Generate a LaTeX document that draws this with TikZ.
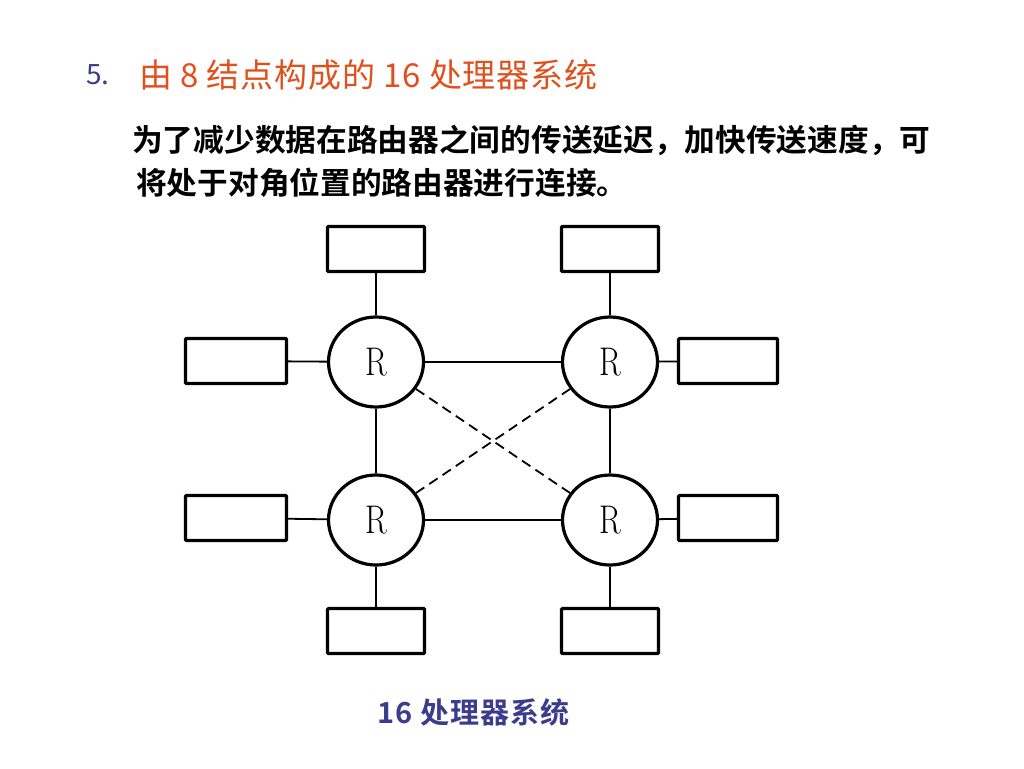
\documentclass[tikz,border=0pt]{standalone}
\usepackage{fontspec}
\newfontfamily\cjk{Noto Sans CJK SC}
\newfontfamily\cjkb{Noto Sans CJK SC Bold}
\newfontfamily\cjksp[LetterSpace=2.5]{Noto Sans CJK SC}
\newfontfamily\cjkbsp[LetterSpace=4]{Noto Sans CJK SC Bold}
\usetikzlibrary{shapes.geometric}
\definecolor{titleblue}{HTML}{3C3C8C}
\definecolor{titleorange}{HTML}{E0501C}
\tikzset{
  router/.style={draw, ellipse, line width=3.2pt, minimum width=95pt, minimum height=90pt, inner sep=0pt},
  pbox/.style={draw, line width=3.2pt, minimum width=97pt, minimum height=45pt, inner sep=0pt, rounded corners=1pt},
  link/.style={line width=1.8pt},
  diag/.style={line width=1.8pt, dash pattern=on 10pt off 6pt},
}
\newcommand{\rlabel}{\fontsize{40}{40}\selectfont\scalebox{0.8}[1]{R}}
\begin{document}
\begin{tikzpicture}[x=1pt,y=-1pt]
\useasboundingbox (0,0) rectangle (1024,768);
% title
\node[anchor=west, inner sep=0pt, text=titleblue, font=\cjk\fontsize{28}{28}\selectfont] (num) at (86,75) {5.};
\node[anchor=west, inner sep=0pt, text=titleorange, font=\cjksp\fontsize{33}{33}\selectfont] (title) at (139,75) {由 8 结点构成的 16 处理器系统};
% body
\node[anchor=west, inner sep=0pt, font=\cjkb\fontsize{30.7}{30.7}\selectfont] (l1) at (132,140) {为了减少数据在路由器之间的传送延迟，加快传送速度，可};
\node[anchor=west, inner sep=0pt, font=\cjkb\fontsize{30.7}{30.7}\selectfont] (l2) at (136,183) {将处于对角位置的路由器进行连接。};
% routers
\node[router] (r1) at (376,362) {\rlabel};
\node[router] (r2) at (610,362) {\rlabel};
\node[router] (r3) at (376,520) {\rlabel};
\node[router] (r4) at (610,520) {\rlabel};
% processor boxes
\node[pbox] (b1) at (376,249) {};
\node[pbox] (b2) at (610,249) {};
\node[pbox, minimum width=101pt] (b3) at (236,361) {};
\node[pbox, minimum width=99pt] (b4) at (728,361) {};
\node[pbox, minimum width=101pt] (b5) at (236,518) {};
\node[pbox, minimum width=99pt] (b6) at (728,518) {};
\node[pbox] (b7) at (376,631) {};
\node[pbox] (b8) at (610,631) {};
% links
\draw[link] (b1) -- (r1);
\draw[link] (b2) -- (r2);
\draw[link] (b3) -- (r1);
\draw[link] (b4) -- (r2);
\draw[link] (b5) -- (r3);
\draw[link] (b6) -- (r4);
\draw[link] (b7) -- (r3);
\draw[link] (b8) -- (r4);
\draw[link] (r1) -- (r2);
\draw[link] (r3) -- (r4);
\draw[link] (r1) -- (r3);
\draw[link] (r2) -- (r4);
\draw[diag] (r1) -- (r4);
\draw[diag] (r3) -- (r2);
% caption
\node[anchor=west, inner sep=0pt, text=titleblue, font=\cjkbsp\fontsize{29}{29}\selectfont] (cap) at (377,712) {16 处理器系统};
\end{tikzpicture}
\end{document}
